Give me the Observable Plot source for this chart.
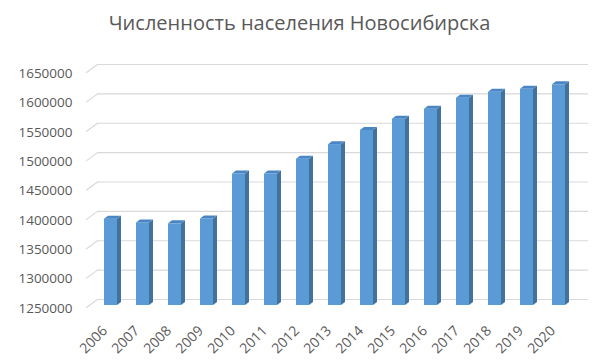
<!DOCTYPE html>
<html><head><meta charset="utf-8">
<script src="https://cdn.jsdelivr.net/npm/d3@7"></script>
<script src="https://cdn.jsdelivr.net/npm/@observablehq/plot@0.6"></script>
<style>
body{margin:0;background:#fff;font-family:"Open Sans",sans-serif;}
#title{height:44px;line-height:46px;text-align:center;font-size:20px;color:#595959;}
</style>
</head><body>
<div id="title">Численность населения Новосибирска</div>
<div id="chart"></div>
<script>
const years = [2006, 2007, 2008, 2009, 2010, 2011, 2012, 2013, 2014, 2015, 2016, 2017, 2018, 2019, 2020];
const population = [1397015, 1390516, 1389000, 1397191, 1473754, 1473737, 1498921, 1523801, 1547910, 1567087, 1584138, 1602915, 1612833, 1618039, 1625631];
const yTicks = [1250000, 1300000, 1350000, 1400000, 1450000, 1500000, 1550000, 1600000, 1650000];
const baseValue = 1250000;

const data = years.map((y, i) => ({year: String(y), value: population[i]}));
const dX = 4, dY = 3;

function bar3d(index, scales, values, dimensions, context, next) {
  const g = next(index, scales, values, dimensions, context);
  const sel = d3.select(g);
  const rects = Array.from(g.querySelectorAll("rect"));
  for (const r of rects) {
    const x0 = +r.getAttribute("x"), w = +r.getAttribute("width");
    const yt = +r.getAttribute("y"), h = +r.getAttribute("height");
    const x1 = x0 + w, yb = yt + h;
    sel.append("polygon")
      .attr("points", [[x1, yt], [x1 + dX, yt - dY], [x1 + dX, yb - dY], [x1, yb]].join(" "))
      .attr("fill", "#41719c");
    sel.append("polygon")
      .attr("points", [[x0, yt], [x0 + dX, yt - dY], [x1 + dX, yt - dY], [x1, yt]].join(" "))
      .attr("fill", "#4a86c4");
  }
  return g;
}

const plot = Plot.plot({
  width: 599, height: 316,
  marginTop: 26, marginBottom: 55, marginLeft: 86, marginRight: 15.5,
  style: {fontFamily: "Open Sans", fontSize: "13.5px", color: "#595959", background: "white"},
  x: {type: "band", domain: years.map(String), paddingInner: 0.6, paddingOuter: 0.43, label: null},
  y: {domain: [baseValue, 1650000], label: null},
  marks: [
    Plot.ruleY(yTicks, {stroke: "#d9d9d9", strokeWidth: 1.2, dx: 11, dy: -6, insetRight: 6.5}),
    Plot.vector(yTicks, {
      y: d => d, frameAnchor: "left", length: 13.6, rotate: 54, anchor: "start", dy: 2,
      stroke: "#d9d9d9", strokeWidth: 1.2,
      shape: {draw(ctx, l) { ctx.moveTo(0, 0); ctx.lineTo(0, -l); }}
    }),
    Plot.barY(data, {x: "year", y1: baseValue, y2: "value", fill: "#5b9bd5", render: bar3d}),
    Plot.axisY(yTicks, {tickSize: 0, tickPadding: 14, dy: 3, fill: "#595959", label: null, tickFormat: d => String(d)}),
    Plot.axisX({tickSize: 0, tickRotate: -45, tickPadding: 23, dx: -6, fill: "#595959", fontSize: 14, label: null})
  ]
});
document.getElementById("chart").append(plot);
</script>
</body></html>
